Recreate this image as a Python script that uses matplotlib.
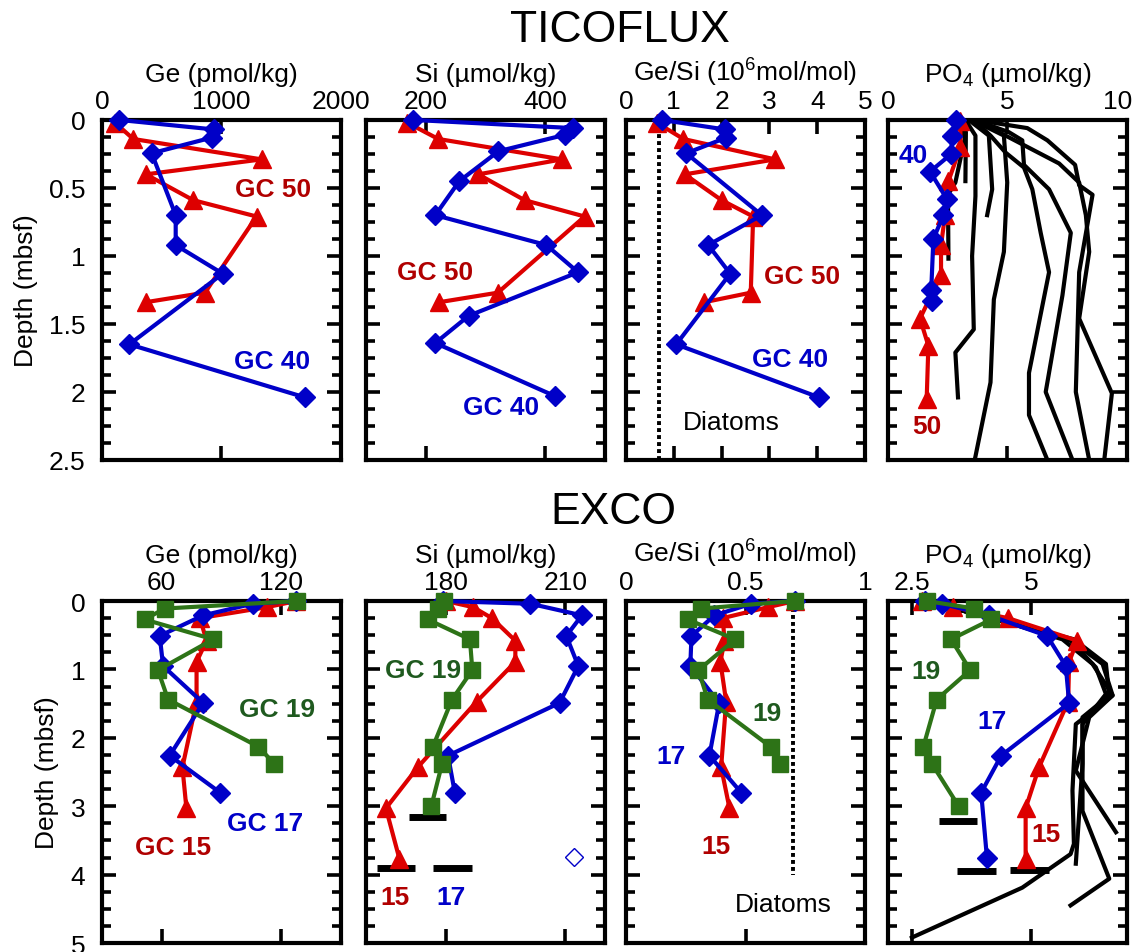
import matplotlib.pyplot as plt
import matplotlib.transforms as mtransforms
from matplotlib.ticker import MultipleLocator, FuncFormatter

############ Ge, Si, Ge/Si and PO4 pore water profiles, TICOFLUX (top) and EXCO (bottom) ############

plt.rcParams['font.family'] = ['Liberation Sans', 'DejaVu Sans']
plt.rcParams['mathtext.fontset'] = 'custom'
plt.rcParams['mathtext.rm'] = 'Liberation Sans'
plt.rcParams['mathtext.it'] = 'Liberation Sans:italic'
plt.rcParams['mathtext.bf'] = 'Liberation Sans:bold'

BLUE = '#0000c8'
RED = '#dd0000'
GREEN = '#2d7317'
RED_TXT = '#b00000'
GREEN_TXT = '#1f5a1f'

# ---------------- TICOFLUX ----------------
# GC 40
t40_depth = [0, 0.07, 0.13, 0.245, 0.70, 0.92, 1.13, 1.65, 2.04]
t40_ge = [145, 937, 918, 416, 617, 617, 1010, 229, 1699]
t40_gesi = [0.75, 2.07, 2.10, 1.26, 2.84, 1.72, 2.18, 1.05, 4.04]
t40_si_depth = [0, 0.06, 0.11, 0.23, 0.45, 0.70, 0.92, 1.12, 1.44, 1.64, 2.03]
t40_si = [179.5, 446.7, 432.6, 321.8, 256.2, 216, 401.9, 455, 271.9, 216, 416]
t40_po4_depth = [0, 0.115, 0.25, 0.38, 0.58, 0.70, 0.875, 1.25, 1.33]
t40_po4 = [2.86, 2.68, 2.65, 1.76, 2.46, 2.32, 1.90, 1.81, 1.86]
# GC 50
t50_depth = [0.02, 0.14, 0.29, 0.40, 0.59, 0.71, 1.27, 1.34]
t50_ge = [109, 262, 1336, 368, 764, 1294, 862, 368]
t50_si = [169, 221, 428, 288, 365.5, 466, 320.7, 222.7]
t50_gesi = [0.64, 1.20, 3.12, 1.23, 2.0, 2.66, 2.61, 1.64]
t50_po4_depth = [0.01, 0.2, 0.45, 0.70, 0.92, 1.14, 1.46, 1.66, 2.05]
t50_po4 = [3.03, 3.03, 2.53, 2.39, 2.22, 2.22, 1.34, 1.69, 1.62]
# other TICOFLUX cores, PO4 only (depth, PO4)
t_po4_cores = [
    ([0, 0.09, 0.45], [3.10, 3.26, 3.24]),
    ([0, 0.14, 0.46, 0.55, 1.02], [3.03, 3.21, 2.82, 2.51, 2.53]),
    ([0, 0.115, 0.56, 1.0, 1.54, 1.71, 2.04], [3.24, 3.66, 3.66, 3.52, 3.59, 2.82, 2.93]),
    ([0, 0.115, 0.51, 0.70], [3.38, 4.22, 4.36, 4.15]),
    ([0, 0.115, 0.46, 0.97, 1.32, 1.93, 2.5], [3.52, 4.85, 4.99, 4.85, 4.43, 4.29, 3.63]),
    ([0, 0.115, 0.24, 0.35, 0.51, 0.83, 1.12, 1.86, 2.17, 2.5],
     [3.59, 4.29, 4.92, 5.69, 6.04, 6.39, 6.74, 5.90, 5.90, 6.67]),
    ([0, 0.09, 0.15, 0.33, 0.51, 0.83, 1.29, 2.0, 2.5],
     [3.63, 5.06, 5.62, 5.69, 6.74, 7.65, 7.30, 6.60, 7.72]),
    ([0, 0.06, 0.15, 0.33, 0.48, 0.55, 1.12, 2.0, 2.5],
     [3.66, 5.83, 6.67, 7.83, 8.00, 8.56, 8.00, 7.86, 8.42]),
    ([0, 0.115, 0.32, 0.46, 0.70, 0.97, 1.46, 2.01, 2.5],
     [3.66, 4.92, 7.16, 8.00, 8.28, 8.42, 8.00, 9.37, 9.05]),
]
t_diatom_gesi = 0.70

# ---------------- EXCO ----------------
# GC 15
e15_depth = [0, 0.09, 0.25, 0.58, 0.89, 1.47, 2.43, 3.03, 3.77]
e15_ge = [127.6, 112.8, 79.2, 82.5, 77.5, 77.5, 70.4, 72.4]
e15_gesi = [0.706, 0.594, 0.405, 0.412, 0.395, 0.419, 0.398, 0.433]
e15_si = [180, 186.9, 191.6, 197.5, 197.5, 187.8, 173, 165, 168.4]
e15_po4 = [2.71, 3.37, 4.51, 5.96, 5.79, 5.77, 5.16, 4.88, 4.88]
# GC 17
e17_depth = [0, 0.04, 0.21, 0.51, 0.95, 1.49, 2.26, 2.80, 3.75]
e17_ge = [127.6, 105.7, 80.8, 59, 60.7, 80.8, 64, 89.3]
e17_gesi = [0.706, 0.524, 0.37, 0.274, 0.269, 0.39, 0.349, 0.482]
e17_si = [179.3, 201.3, 214.2, 210.3, 213.3, 208.6, 180.6, 182.3]
e17_po4 = [2.78, 3.13, 4.11, 5.33, 5.72, 5.79, 4.37, 3.95, 4.07]
e17_si_open = (212.2, 3.74)
# GC 19
e19_depth = [0, 0.11, 0.27, 0.56, 1.01, 1.44, 2.13, 2.38, 3.0]
e19_ge = [127.9, 61.5, 51.4, 85.9, 58.1, 63.2, 108.6, 116.5]
e19_gesi = [0.706, 0.314, 0.258, 0.457, 0.303, 0.342, 0.605, 0.643]
e19_si = [179.6, 178.1, 175.5, 186.1, 186.7, 181.6, 176.8, 179.1, 176.4]
e19_po4 = [2.81, 3.81, 4.16, 3.32, 3.72, 3.02, 2.74, 2.92, 3.48]
# core bottoms (xmin, xmax, depth)
e_si_bars = [(170.9, 180.2, 3.16), (162.7, 172.2, 3.9), (176.8, 186.5, 3.9)]
e_po4_bars = [(3.06, 3.86, 3.21), (3.44, 4.26, 3.95), (4.55, 5.37, 3.93)]
# other EXCO cores, PO4 only
e_po4_cores = [
    ([0, 0.29, 0.56, 0.92, 1.38, 1.80, 2.77, 3.55, 3.70, 4.19, 4.92],
     [2.78, 4.39, 5.65, 6.28, 6.70, 5.93, 5.86, 5.89, 5.82, 4.81, 2.50]),
    ([0, 0.29, 0.56, 0.92, 1.38, 1.70, 2.48, 3.38],
     [2.78, 4.39, 5.79, 6.49, 6.70, 6.21, 5.93, 6.77]),
    ([0, 0.29, 0.58, 0.97, 1.36, 1.80, 2.38, 3.84],
     [2.78, 4.39, 5.82, 6.35, 6.56, 6.07, 6.07, 5.93]),
    ([0, 0.29, 0.56, 0.92, 1.38, 1.70, 3.07, 4.06, 4.45],
     [2.78, 4.39, 5.89, 6.56, 6.63, 6.07, 6.07, 6.63, 5.82]),
]
e_diatom_gesi = 0.70
e_diatom_bottom = 4.0

fmt = FuncFormatter(lambda v, p: '%g' % v)
LW = 3.0


def style(ax, xlim, xticks, ymax, ymajor, yminor, xlabel, first):
    ax.set_xlim(xlim)
    ax.set_ylim(ymax, 0)
    ax.set_xticks(xticks)
    ax.xaxis.set_major_formatter(fmt)
    ax.xaxis.set_label_position('top')
    ax.set_xlabel(xlabel, fontsize=19, labelpad=6)
    ax.tick_params(axis='x', direction='in', top=True, bottom=True, labeltop=True,
                   labelbottom=False, length=10, width=2.6, labelsize=19, pad=5)
    ax.yaxis.set_major_locator(MultipleLocator(ymajor))
    ax.yaxis.set_minor_locator(MultipleLocator(yminor))
    ax.yaxis.set_major_formatter(fmt)
    ax.tick_params(axis='y', which='major', direction='in', left=True, right=True,
                   length=10, width=2.6, labelsize=19, pad=12, labelleft=first)
    ax.tick_params(axis='y', which='minor', direction='in', left=True, right=True,
                   length=6.5, width=2.6)
    for sp in ax.spines.values():
        sp.set_linewidth(3.0)
    if first:
        ax.set_ylabel('Depth (mbsf)', fontsize=19, labelpad=8)


def prof(ax, x, d, mk, col, ms, z):
    ax.plot(x, d[:len(x)], '-', marker=mk, color=col, lw=LW, ms=ms, mec=col, zorder=z, clip_on=False)


def lab(ax, x, y, s, col, bold=True):
    ax.text(x, y, s, color=col, fontsize=19, fontweight='bold' if bold else 'normal',
            ha='center', va='center')


fig = plt.figure(figsize=(11.38, 9.53), dpi=100)
lefts = [0.0896, 0.3216, 0.5501, 0.7803]
w = 0.21
top_axes = [fig.add_axes([l, 0.5163, w, 0.3568]) for l in lefts]
bot_axes = [fig.add_axes([l, 0.0094, w, 0.3589]) for l in lefts]

fig.text(0.545, 1 - 30 / 953, 'TICOFLUX', ha='center', va='center', fontsize=32)
fig.text(0.539, 1 - 512 / 953, 'EXCO', ha='center', va='center', fontsize=32)

gesi_lab = r'Ge/Si (10$^{6}$mol/mol)'
po4_lab = r'PO$_4$ (µmol/kg)'

# ---- TICOFLUX panels
ax = top_axes[0]
style(ax, (0, 2000), [0, 1000, 2000], 2.5, 0.5, 0.125, 'Ge (pmol/kg)', True)
prof(ax, t50_ge, t50_depth, '^', RED, 13, 3)
prof(ax, t40_ge, t40_depth, 'D', BLUE, 10, 4)
lab(ax, 1433, 0.51, 'GC 50', RED_TXT)
lab(ax, 1420, 1.77, 'GC 40', BLUE)

ax = top_axes[1]
style(ax, (100, 500), [200, 400], 2.5, 0.5, 0.125, 'Si (µmol/kg)', False)
prof(ax, t50_si, t50_depth, '^', RED, 13, 3)
prof(ax, t40_si, t40_si_depth, 'D', BLUE, 10, 4)
lab(ax, 215, 1.12, 'GC 50', RED_TXT)
lab(ax, 326, 2.11, 'GC 40', BLUE)

ax = top_axes[2]
style(ax, (0, 5), [0, 1, 2, 3, 4, 5], 2.5, 0.5, 0.125, gesi_lab, False)
ax.axvline(t_diatom_gesi, color='black', ls=(0, (1.0, 0.8)), lw=2.8, zorder=2)
prof(ax, t50_gesi, t50_depth, '^', RED, 13, 3)
prof(ax, t40_gesi, t40_depth, 'D', BLUE, 10, 4)
lab(ax, 3.68, 1.145, 'GC 50', RED_TXT)
lab(ax, 3.43, 1.76, 'GC 40', BLUE)
lab(ax, 2.21, 2.22, 'Diatoms', 'black', bold=False)

ax = top_axes[3]
style(ax, (0, 10), [0, 5, 10], 2.5, 0.5, 0.125, po4_lab, False)
# keep the "10" label inside the figure
fig.canvas.draw()
last = ax.get_xticklabels()[-1]
last.set_transform(last.get_transform() + mtransforms.ScaledTranslation(-7 / 72, 0, fig.dpi_scale_trans))
for d, p in t_po4_cores:
    ax.plot(p, d, '-', color='black', lw=LW, zorder=2)
prof(ax, t50_po4, t50_po4_depth, '^', RED, 13, 3)
prof(ax, t40_po4, t40_po4_depth, 'D', BLUE, 10, 4)
lab(ax, 1.05, 0.26, '40', BLUE)
lab(ax, 1.63, 2.25, '50', RED_TXT)

# ---- EXCO panels
ax = bot_axes[0]
style(ax, (30, 150), [60, 120], 5, 1, 0.25, 'Ge (pmol/kg)', True)
prof(ax, e15_ge, e15_depth, '^', RED, 13, 3)
prof(ax, e17_ge, e17_depth, 'D', BLUE, 10, 4)
prof(ax, e19_ge, e19_depth, 's', GREEN, 11, 5)
lab(ax, 117.8, 1.58, 'GC 19', GREEN_TXT)
lab(ax, 112, 3.25, 'GC 17', BLUE)
lab(ax, 65.7, 3.6, 'GC 15', RED_TXT)

ax = bot_axes[1]
style(ax, (160, 220), [180, 210], 5, 1, 0.25, 'Si (µmol/kg)', False)
prof(ax, e15_si, e15_depth, '^', RED, 13, 3)
prof(ax, e17_si, e17_depth, 'D', BLUE, 10, 4)
prof(ax, e19_si, e19_depth, 's', GREEN, 11, 5)
ax.plot([e17_si_open[0]], [e17_si_open[1]], 'D', ms=9, mfc='none', mec=BLUE, mew=1)
for x0, x1, d in e_si_bars:
    ax.hlines(d, x0, x1, color='black', lw=5)
lab(ax, 174.3, 1.01, 'GC 19', GREEN_TXT)
lab(ax, 167.3, 4.33, '15', RED_TXT)
lab(ax, 181.4, 4.33, '17', BLUE)

ax = bot_axes[2]
style(ax, (0, 1), [0, 0.5, 1], 5, 1, 0.25, gesi_lab, False)
ax.plot([e_diatom_gesi, e_diatom_gesi], [0, e_diatom_bottom], color='black',
        ls=(0, (1.0, 0.8)), lw=2.8, zorder=2)
prof(ax, e15_gesi, e15_depth, '^', RED, 13, 3)
prof(ax, e17_gesi, e17_depth, 'D', BLUE, 10, 4)
prof(ax, e19_gesi, e19_depth, 's', GREEN, 11, 5)
lab(ax, 0.59, 1.63, '19', GREEN_TXT)
lab(ax, 0.19, 2.26, '17', BLUE)
lab(ax, 0.377, 3.58, '15', RED_TXT)
lab(ax, 0.657, 4.43, 'Diatoms', 'black', bold=False)

ax = bot_axes[3]
style(ax, (2, 7), [2.5, 5], 5, 1, 0.25, po4_lab, False)
for d, p in e_po4_cores:
    ax.plot(p, d, '-', color='black', lw=LW, zorder=2)
prof(ax, e15_po4, e15_depth, '^', RED, 13, 3)
prof(ax, e17_po4, e17_depth, 'D', BLUE, 10, 4)
prof(ax, e19_po4, e19_depth, 's', GREEN, 11, 5)
for x0, x1, d in e_po4_bars:
    ax.hlines(d, x0, x1, color='black', lw=5)
lab(ax, 2.79, 1.03, '19', GREEN_TXT)
lab(ax, 4.18, 1.76, '17', BLUE)
lab(ax, 5.30, 3.41, '15', RED_TXT)

plt.savefig('out.png', dpi=100)
